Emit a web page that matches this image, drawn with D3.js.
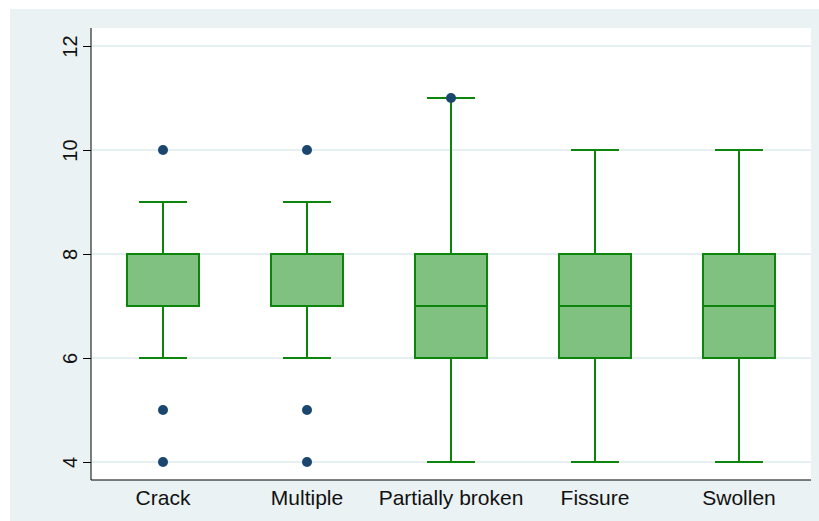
<!DOCTYPE html>
<html>
<head>
<meta charset="utf-8">
<script src="https://cdn.jsdelivr.net/npm/d3@7"></script>
<style>
  body { margin: 0; background: #fff; }
  text { font-family: "Liberation Sans", Arial, sans-serif; fill: #111; }
</style>
</head>
<body>
<div id="chart"></div>
<script>
// categories and box statistics
var categories = ["Crack", "Multiple", "Partially broken", "Fissure", "Swollen"];
var lowerWhisker = [6, 6, 4, 4, 4];
var q1Values = [7, 7, 6, 6, 6];
var medianValues = [7, 7, 7, 7, 7];
var q3Values = [8, 8, 8, 8, 8];
var upperWhisker = [9, 9, 11, 10, 10];
var outliers = [[10, 5, 4], [10, 5, 4], [11], [], []];
var yTicks = [4, 6, 8, 10, 12];

const W = 819, H = 521;
const margin = {top: 28, right: 8, bottom: 41, left: 91};
const width = W - margin.left - margin.right,
      height = H - margin.top - margin.bottom;

var svg = d3.select("#chart").append("svg")
    .attr("width", W)
    .attr("height", H);

// outer background
svg.append("rect")
    .attr("x", 10).attr("y", 9)
    .attr("width", W - 10).attr("height", H - 9)
    .attr("fill", "#eaf2f3");

var g = svg.append("g")
    .attr("transform", "translate(" + margin.left + "," + margin.top + ")");

// plot region
g.append("rect")
    .attr("width", width)
    .attr("height", height)
    .attr("fill", "#fff");

var xScale = d3.scaleBand().domain(categories).range([0, width]).padding(0);
var yScale = d3.scaleLinear().domain([4, 12]).range([434, 18]);

// gridlines
g.append("g").selectAll("line")
    .data(yTicks)
    .enter().append("line")
    .attr("x1", 0).attr("x2", width)
    .attr("y1", d => yScale(d)).attr("y2", d => yScale(d))
    .attr("stroke", "#e6eff1")
    .attr("stroke-width", 2);

var boxes = categories.map((c, i) => ({
    cat: c, lo: lowerWhisker[i], q1: q1Values[i], med: medianValues[i],
    q3: q3Values[i], hi: upperWhisker[i], out: outliers[i]
}));

var boxW = 72, capW = 48;
var green = "#0b850b";

var bx = g.append("g").selectAll("g")
    .data(boxes)
    .enter().append("g")
    .attr("transform", d => "translate(" + (xScale(d.cat) + xScale.bandwidth() / 2) + ",0)");

// whiskers
bx.append("line")
    .attr("x1", 0).attr("x2", 0)
    .attr("y1", d => yScale(d.hi)).attr("y2", d => yScale(d.q3))
    .attr("stroke", green).attr("stroke-width", 2);
bx.append("line")
    .attr("x1", 0).attr("x2", 0)
    .attr("y1", d => yScale(d.q1)).attr("y2", d => yScale(d.lo))
    .attr("stroke", green).attr("stroke-width", 2);
// caps
bx.append("line")
    .attr("x1", -capW / 2).attr("x2", capW / 2)
    .attr("y1", d => yScale(d.hi)).attr("y2", d => yScale(d.hi))
    .attr("stroke", green).attr("stroke-width", 2);
bx.append("line")
    .attr("x1", -capW / 2).attr("x2", capW / 2)
    .attr("y1", d => yScale(d.lo)).attr("y2", d => yScale(d.lo))
    .attr("stroke", green).attr("stroke-width", 2);
// box
bx.append("rect")
    .attr("x", -boxW / 2).attr("width", boxW)
    .attr("y", d => yScale(d.q3))
    .attr("height", d => yScale(d.q1) - yScale(d.q3))
    .attr("fill", "#80c080")
    .attr("stroke", green).attr("stroke-width", 2);
// median
bx.append("line")
    .attr("x1", -boxW / 2).attr("x2", boxW / 2)
    .attr("y1", d => yScale(d.med)).attr("y2", d => yScale(d.med))
    .attr("stroke", green).attr("stroke-width", 2);
// outliers
bx.selectAll("circle")
    .data(d => d.out)
    .enter().append("circle")
    .attr("cx", 0)
    .attr("cy", d => yScale(d))
    .attr("r", 5)
    .attr("fill", "#1a476f");

// y axis
var yAxis = g.append("g")
    .call(d3.axisLeft(yScale).tickValues(yTicks).tickSize(8).tickPadding(0).tickFormat(d3.format("d")));
yAxis.select(".domain").attr("d", "M0,0V" + height).attr("stroke", "#000");
yAxis.selectAll(".tick line").attr("stroke", "#000");
yAxis.selectAll(".tick text")
    .attr("x", 0).attr("y", 0).attr("dy", null)
    .attr("text-anchor", "middle")
    .attr("transform", "translate(-14,0) rotate(-90)")
    .style("font-size", "20px");

// x axis
var xAxis = g.append("g")
    .attr("transform", "translate(0," + height + ")")
    .call(d3.axisBottom(xScale).tickSize(0));
xAxis.select(".domain").attr("d", "M0,0H" + width).attr("stroke", "#000");
xAxis.selectAll(".tick text")
    .attr("y", 25).attr("dy", null)
    .style("font-size", "21px");
</script>
</body>
</html>
